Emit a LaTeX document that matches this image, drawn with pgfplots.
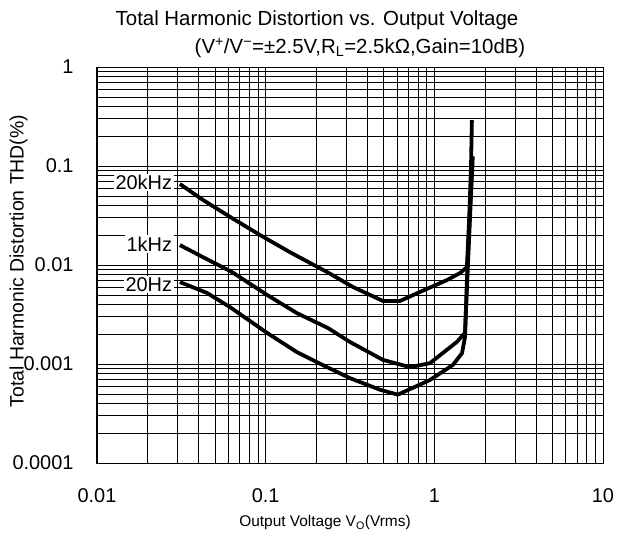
\documentclass[border=0pt]{standalone}
\usepackage{fontspec}
\setmainfont{Liberation Sans}
\usepackage{pgfplots}
\pgfplotsset{compat=1.18}
\begin{document}
\begin{tikzpicture}
\begin{axis}[
  scale only axis, width=506bp, height=396bp,
  xmode=log, ymode=log, xmin=0.01, xmax=10, ymin=0.0001, ymax=1,
  xtick={0.01,0.1,1,10}, xticklabels={0.01,0.1,1,10},
  ytick={0.0001,0.001,0.01,0.1,1}, yticklabels={0.0001,0.001,0.01,0.1,1},
  minor xtick={0.02,0.03,0.04,0.05,0.06,0.07,0.08,0.09,0.2,0.3,0.4,0.5,0.6,0.7,0.8,0.9,2,3,4,5,6,7,8,9},
  minor ytick={0.0002,0.0003,0.0004,0.0005,0.0006,0.0007,0.0008,0.0009,0.002,0.003,0.004,0.005,0.006,0.007,0.008,0.009,0.02,0.03,0.04,0.05,0.06,0.07,0.08,0.09,0.2,0.3,0.4,0.5,0.6,0.7,0.8,0.9},
  grid=both,
  major grid style={black, line width=0.9pt},
  minor grid style={black, line width=0.55pt},
  axis line style={black, line width=1pt},
  major tick length=0pt, minor tick length=0pt,
  tick label style={font=\fontsize{20}{20}\selectfont},
  xticklabel style={yshift=-22bp},
  yticklabel style={xshift=-20bp},
  xlabel={Output Voltage V\textsubscript{O}(Vrms)},
  ylabel={Total Harmonic Distortion THD(\%)},
  xlabel style={font=\fontsize{15.5}{15.5}\selectfont, yshift=-6bp, xshift=-25bp},
  ylabel style={font=\fontsize{19.5}{19.5}\selectfont, at={(axis description cs:-0.155,0.51)}, anchor=center},
]
\addplot[black, line width=3.8pt, line join=round] coordinates {
(0.031,0.0658)(0.0425,0.0454)(0.0631,0.0298)(0.0925,0.0201)(0.139,0.0135)(0.231,0.0085)(0.329,0.0060)(0.496,0.00433)(0.625,0.00433)(0.822,0.00534)(1.19,0.00705)(1.42,0.0083)(1.56,0.0095)(1.61,0.03)(1.65,0.098)(1.67,0.29)
};
\addplot[black, line width=3.8pt, line join=round] coordinates {
(0.031,0.0159)(0.0425,0.0120)(0.0631,0.0085)(0.102,0.00498)(0.153,0.00327)(0.234,0.00231)(0.316,0.00167)(0.496,0.00110)(0.717,0.00093)(0.942,0.00102)(1.36,0.00167)(1.52,0.00206)(1.58,0.0095)(1.64,0.04)(1.69,0.125)
};
\addplot[black, line width=3.8pt, line join=round] coordinates {
(0.031,0.00673)(0.0449,0.00522)(0.0614,0.00376)(0.102,0.00206)(0.153,0.00132)(0.231,0.00093)(0.316,0.00072)(0.476,0.00055)(0.608,0.00049)(0.942,0.00069)(1.29,0.00098)(1.46,0.00129)(1.52,0.00187)(1.57,0.0095)(1.63,0.04)(1.68,0.11)
};
\node[fill=white, anchor=east, inner sep=1.5pt, font=\fontsize{20}{20}\selectfont] at (axis cs:0.0285,0.068) {20kHz};
\node[fill=white, anchor=east, inner sep=1.5pt, font=\fontsize{20}{20}\selectfont] at (axis cs:0.0285,0.0163) {1kHz};
\node[fill=white, anchor=east, inner sep=1.5pt, font=\fontsize{20}{20}\selectfont] at (axis cs:0.0285,0.0064) {20Hz};
\end{axis}
\node[font=\fontsize{20.5}{20.5}\selectfont] at ([xshift=220bp, yshift=47bp]current axis.north west) {Total Harmonic Distortion vs. Output Voltage};
\node[font=\fontsize{20.5}{20.5}\selectfont] at ([xshift=263bp, yshift=19bp]current axis.north west) {(V\textsuperscript{+}/V\textsuperscript{−}=±2.5V,R\textsubscript{L}=2.5kΩ,Gain=10dB)};
\pgfresetboundingbox
\path[use as bounding box] ([xshift=-97bp,yshift=-70bp]current axis.south west) rectangle ([xshift=26bp,yshift=67bp]current axis.north east);
\end{tikzpicture}
\end{document}
